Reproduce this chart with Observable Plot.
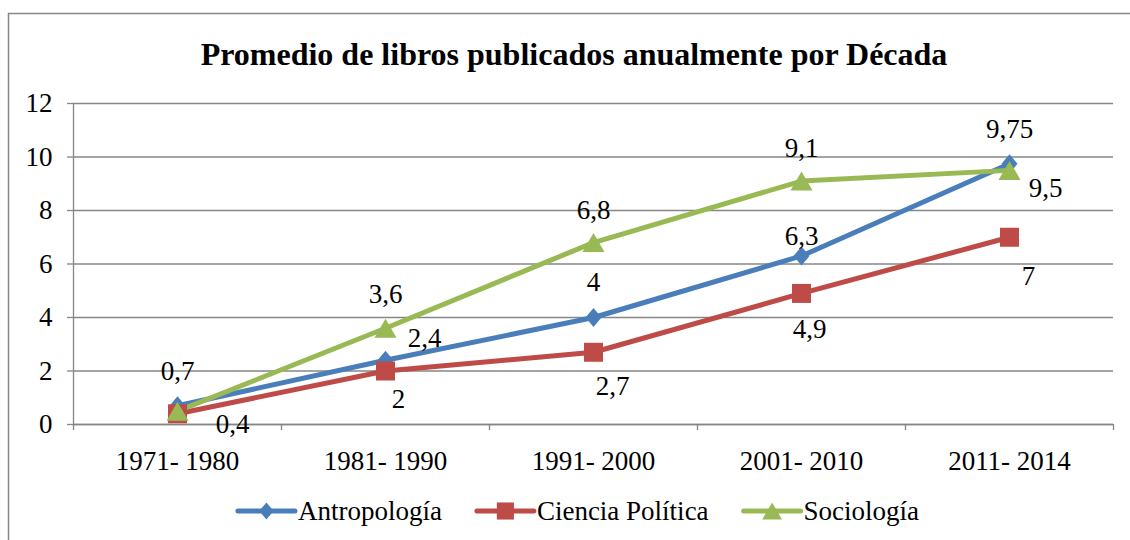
<!DOCTYPE html>
<html>
<head>
<meta charset="utf-8">
<script src="https://cdn.jsdelivr.net/npm/d3@7"></script>
<script src="https://cdn.jsdelivr.net/npm/@observablehq/plot@0.6"></script>
<style>
  html, body { margin: 0; padding: 0; background: #fff; }
  #chart { width: 1130px; height: 540px; overflow: hidden; }
  #chart svg text { font-family: "Liberation Serif", "Times New Roman", serif; }
</style>
</head>
<body>
<div id="chart"></div>
<script>
// ---- Data ----
const categories = ["1971- 1980", "1981- 1990", "1991- 2000", "2001- 2010", "2011- 2014"];
const antropologia = [0.7, 2.4, 4, 6.3, 9.75];
const cienciaPolitica = [0.4, 2, 2.7, 4.9, 7];
const sociologia = [0.5, 3.6, 6.8, 9.1, 9.5];
const seriesNames = ["Antropología", "Ciencia Política", "Sociología"];
const yTicks = [0, 2, 4, 6, 8, 10, 12];
const title = "Promedio de libros publicados anualmente por Década";
// which data labels are shown (first Sociología label is hidden in the original)
const showLabels = [
  [true, true, true, true, true],
  [true, true, true, true, true],
  [false, true, true, true, true]
];

// ---- Style ----
const colors = ["#4A7EBB", "#BE4B48", "#98B954"];
const gridColor = "#868686";
const font = '"Liberation Serif", "Times New Roman", serif';
const fs = 27;
// label offsets (px) per series / point
const labelDx = [
  [0, 39, 0, 0, 0],
  [55, 13, 19, 8, 19],
  [0, 0, 0, 0, 36]
];
const labelDy = [
  [-34, -22, -35, -20, -34],
  [11, 28, 34, 36, 39],
  [-33, -34, -32, -33, 18]
];

// custom Excel-like marker symbols (scaled by r)
const diamondSym = {draw(ctx, size) { const r = Math.sqrt(size / Math.PI); const w = 0.8 * r, h = 0.95 * r;
  ctx.moveTo(0, -h); ctx.lineTo(w, 0); ctx.lineTo(0, h); ctx.lineTo(-w, 0); ctx.closePath(); }};
const squareSym = {draw(ctx, size) { const r = Math.sqrt(size / Math.PI); const s = 0.95 * r;
  ctx.moveTo(-s, -s); ctx.lineTo(s, -s); ctx.lineTo(s, s); ctx.lineTo(-s, s); ctx.closePath(); }};
const triangleSym = {draw(ctx, size) { const r = Math.sqrt(size / Math.PI); const w = 1.1 * r, h = 0.95 * r;
  ctx.moveTo(0, -h); ctx.lineTo(w, h); ctx.lineTo(-w, h); ctx.closePath(); }};
const symbols = [diamondSym, squareSym, triangleSym];

const seriesValues = [antropologia, cienciaPolitica, sociologia];
const rows = [];
seriesNames.forEach((s, si) => seriesValues[si].forEach((v, i) => rows.push({
  series: s, si, cat: i, value: v, show: showLabels[si][i],
  label: String(v).replace(".", ",")
})));

const catIdx = categories.map((c, i) => i);
const bounds = [-0.5, 0.5, 1.5, 2.5, 3.5, 4.5];

const labelMarks = rows.filter(d => d.show).map(d => Plot.text([d], {
  x: "cat", y: "value", text: "label",
  dx: labelDx[d.si][d.cat], dy: labelDy[d.si][d.cat],
  fontSize: fs, fill: "#000"
}));

const chart = Plot.plot({
  width: 1130, height: 540,
  marginLeft: 73, marginRight: 17, marginTop: 103, marginBottom: 116,
  style: {fontFamily: font, fontSize: fs + "px", color: "#000", background: "#fff"},
  x: {type: "linear", domain: [-0.5, 4.5]},
  y: {domain: [0, 12]},
  color: {domain: seriesNames, range: colors},
  symbol: {domain: seriesNames, range: symbols},
  marks: [
    Plot.gridY(yTicks, {stroke: gridColor, strokeOpacity: 1, strokeWidth: 1.3}),
    Plot.axisY(yTicks, {tickSize: 6, tickPadding: 15, stroke: gridColor, strokeWidth: 1.3, fontSize: fs, fill: "#000", label: null}),
    Plot.axisX(bounds, {tickSize: 6, tickFormat: () => "", stroke: gridColor, strokeWidth: 1.3, label: null}),
    Plot.axisX(catIdx, {tickSize: 0, tickPadding: 26, tickFormat: i => categories[i], fontSize: fs, fill: "#000", label: null}),
    Plot.ruleX([-0.5], {y1: 0, y2: 12, stroke: gridColor, strokeWidth: 1.3}),
    Plot.ruleY([0], {stroke: gridColor, strokeWidth: 1.3}),
    Plot.line(rows, {x: "cat", y: "value", z: "series", stroke: "series", strokeWidth: 5, strokeLinejoin: "round", strokeLinecap: "round"}),
    Plot.dot(rows, {x: "cat", y: "value", symbol: "series", fill: "series", r: 10, stroke: "none"}),
    ...labelMarks
  ]
});

document.getElementById("chart").appendChild(chart);

// ---- Title, border, legend drawn into the same SVG ----
const svg = d3.select(chart);
svg.insert("rect", ":first-child")
  .attr("x", 8.5).attr("y", 13.5).attr("width", 1200).attr("height", 600)
  .attr("fill", "#fff").attr("stroke", gridColor).attr("stroke-width", 1.5);

svg.append("text")
  .attr("x", 574).attr("y", 65)
  .attr("text-anchor", "middle")
  .attr("font-size", 32).attr("font-weight", "bold")
  .attr("fill", "#000")
  .text(title);

const legend = svg.append("g");
const legY = 511;
let cx = 0;
seriesNames.forEach((name, i) => {
  const g = legend.append("g").attr("transform", `translate(${cx},0)`);
  g.append("line").attr("x1", 0).attr("x2", 57).attr("y1", legY).attr("y2", legY)
    .attr("stroke", colors[i]).attr("stroke-width", 5).attr("stroke-linecap", "round");
  g.append("path").attr("d", d3.symbol(symbols[i], Math.PI * 81)())
    .attr("transform", `translate(28.5,${legY})`).attr("fill", colors[i]);
  const t = g.append("text").attr("x", 60).attr("y", legY).attr("dy", "0.32em")
    .attr("text-anchor", "start")
    .attr("font-size", fs).attr("fill", "#000").text(name);
  cx += 60 + t.node().getComputedTextLength() + 35;
});
const legW = cx - 35;
legend.attr("transform", `translate(${578.5 - legW / 2},0)`);
</script>
</body>
</html>
